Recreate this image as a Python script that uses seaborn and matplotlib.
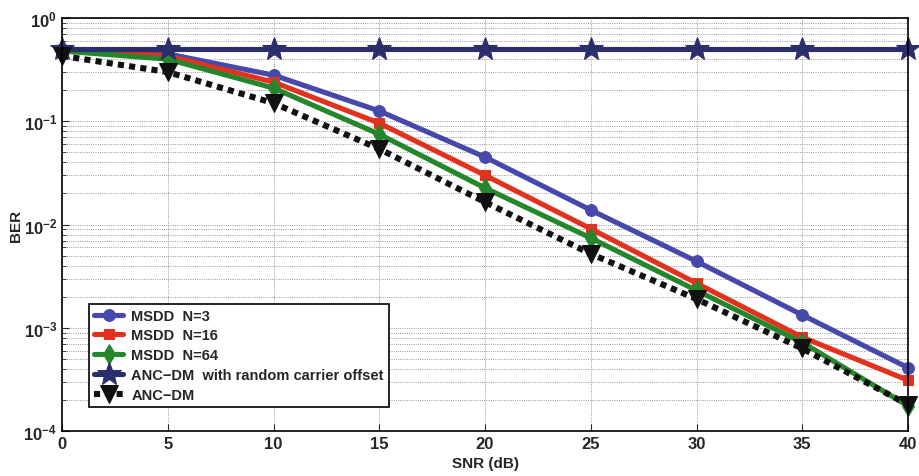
"""
BER vs SNR for MSDD and ANC-DM schemes (log scale).
"""

import numpy as np
import pandas as pd
import matplotlib
matplotlib.use('Agg')
import matplotlib.pyplot as plt
import seaborn as sns

# Data
snr_db = [0, 5, 10, 15, 20, 25, 30, 35, 40]
ber_msdd_n3 = [0.50, 0.45, 0.28, 0.126, 0.045, 0.0138, 0.0044, 0.00133, 0.00041]
ber_msdd_n16 = [0.49, 0.43, 0.24, 0.096, 0.030, 0.0091, 0.0027, 0.00081, 0.00031]
ber_msdd_n64 = [0.48, 0.40, 0.21, 0.075, 0.0226, 0.0074, 0.0023, 0.00072, 0.000175]
ber_anc_offset = [0.50, 0.50, 0.50, 0.50, 0.50, 0.50, 0.50, 0.50, 0.50]
ber_anc = [0.43, 0.30, 0.15, 0.054, 0.0165, 0.0052, 0.0019, 0.00063, 0.00018]

labels = ['MSDD  N=3', 'MSDD  N=16', 'MSDD  N=64',
          'ANC\u2212DM  with random carrier offset', 'ANC\u2212DM']

sns.set_style('ticks')
plt.rcParams['font.family'] = ['Liberation Sans', 'DejaVu Sans']
plt.rcParams['font.weight'] = 'bold'

fig = plt.figure(figsize=(9.2, 4.77), dpi=100)
ax = fig.add_axes([0.0674, 0.0943, 0.9196, 0.8657])

series = [
    (ber_msdd_n3, '#4648AA', 'o', 8.5, '-'),
    (ber_msdd_n16, '#E2321F', 's', 7.5, '-'),
    (ber_msdd_n64, '#25872C', 'd', 10, '-'),
    (ber_anc_offset, '#2B2E6C', '*', 18, '-'),
    (ber_anc, '#111111', 'v', 13, ':'),
]

for (vals, color, marker, ms, ls), label in zip(series, labels):
    df = pd.DataFrame({'snr': snr_db, 'ber': vals})
    line_kw = dict(linestyle=ls, linewidth=3.7)
    if ls == ':':
        # black square-dot line, a bit heavier
        line_kw = dict(dashes=(1.0, 0.85), linewidth=4.4)
    sns.lineplot(data=df, x='snr', y='ber', ax=ax, color=color, marker=marker,
                 markersize=ms, markeredgecolor=color,
                 label=label, clip_on=False, **line_kw)

ax.set_yscale('log')
ax.set_xlim(0, 40)
ax.set_ylim(1e-4, 1)
ax.set_xticks(range(0, 41, 5))
ax.set_xlabel('SNR (dB)', fontsize=11, fontweight='bold', labelpad=4)
ax.set_ylabel('BER', fontsize=11, fontweight='bold', labelpad=0)
ax.tick_params(axis='both', which='both', direction='in', labelsize=12)
ax.tick_params(axis='y', which='minor', length=3)
ax.tick_params(axis='both', which='major', length=5)
ax.grid(True, which='major', linestyle=':', color='#777777', linewidth=0.6)
ax.grid(True, which='minor', linestyle=':', color='#777777', linewidth=0.6)
for lab in ax.get_xticklabels() + ax.get_yticklabels():
    lab.set_fontweight('bold')
for sp in ax.spines.values():
    sp.set_linewidth(1.2)
    sp.set_color('black')

leg = ax.legend(loc='lower left', bbox_to_anchor=(0.032, 0.058), borderaxespad=0,
                fontsize=10.5, frameon=True, fancybox=False, edgecolor='black',
                handlelength=2.0, borderpad=0.35, labelspacing=0.4,
                handletextpad=0.55, framealpha=1)
leg.get_frame().set_linewidth(1.2)
for t in leg.get_texts():
    t.set_fontweight('bold')

fig.savefig('out.png', dpi=100)
